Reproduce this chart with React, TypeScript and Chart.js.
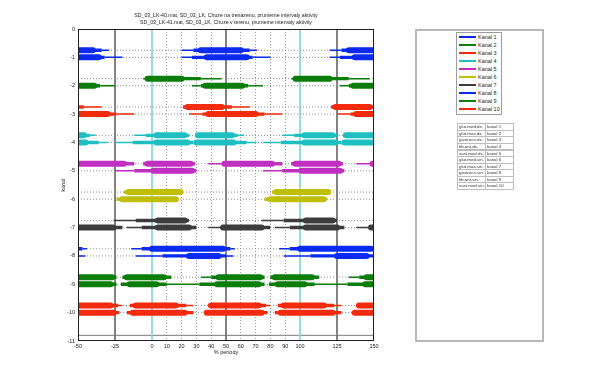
import React, { useEffect, useRef } from "react";
import { Chart, registerables } from "chart.js";

Chart.register(...registerables);

type Seg = [number, number, number]; // [start %, end %, level 1=thin 2=medium 3=thick]

const titleLines = [
  "SD_03_LK-40.mat, SD_03_LK, Chuze na trenazenu, prumerne intervaly aktivity",
  "SD_03_LK-41.mat, SD_03_LK, Chuze v terenu, prumerne intervaly aktivity",
];
const xTitle = "% periody";
const yTitle = "kanal";
const xTicks = [-50, -25, 0, 10, 20, 30, 40, 50, 60, 70, 80, 90, 100, 125, 150];
const xMin = -50;
const xMax = 150;
const yMin = -11;
const yMax = 0;
const cycleShifts = [-100, 0, 100];
const kanalRows = [-1, -2, -3, -4, -5, -6, -7, -8, -9, -10];
const upperOffset = 0.25;
const cycleMarkers = [0, 100];
const phaseMarkers = [-25, 50, 125];
const extraBaseline = -10.8;

const kanalNames = ["Kanal 1", "Kanal 2", "Kanal 3", "Kanal 4", "Kanal 5", "Kanal 6", "Kanal 7", "Kanal 8", "Kanal 9", "Kanal 10"];
const kanalColors = ["#0a2af2", "#0a7d0a", "#f42a0c", "#1ebfc0", "#c02fc0", "#bfbf0a", "#3c3c3c", "#0a2af2", "#0a7d0a", "#f42a0c"];
const muscleNames = ["glut.med.dx.", "glut.max.dx.", "gastrocn.dx.", "tib.ant.dx.", "vast.med.dx.", "glut.med.sin.", "glut.max.sin.", "gastrocn.sin.", "tib.ant.sin.", "vast.med.sin."];
const tableKanal = ["kanal 1", "kanal 2", "kanal 3", "kanal 4", "kanal 5", "kanal 6", "kanal 7", "kanal 8", "kanal 9", "kanal 10"];

// upper band = file 40 (treadmill), lower band = file 41 (terrain)
const k1Upper: Seg[] = [[20, 28, 1], [28, 33, 2], [33, 60, 3], [60, 66, 2], [66, 71, 1]];
const k1Lower: Seg[] = [[20, 27, 1], [27, 37, 2], [37, 64, 3], [64, 68, 2], [68, 80, 1]];
const k2Upper: Seg[] = [[-6, -3, 1], [-3, 20, 3], [20, 33, 2], [33, 47, 1]];
const k2Lower: Seg[] = [[27, 33, 1], [33, 36, 2], [36, 61, 3], [61, 65, 2], [65, 75, 1]];
const k3Upper: Seg[] = [[21, 24, 2], [24, 47, 3], [47, 54, 2], [54, 66, 1]];
const k3Lower: Seg[] = [[25, 34, 1], [34, 38, 2], [38, 70, 3], [70, 76, 2], [76, 88, 1]];
const k4Upper: Seg[] = [[-12, -4, 1], [-4, 3, 2], [3, 22, 3], [22, 25, 2], [29, 31, 2], [31, 54, 3], [54, 58, 2], [58, 62, 1]];
const k4Lower: Seg[] = [[-25, -13, 1], [-13, 3, 2], [3, 24, 3], [24, 28, 2], [30, 55, 3], [55, 64, 2], [64, 70, 1]];
const k5Upper: Seg[] = [[38, 49, 1], [49, 81, 3], [81, 88, 2], [94, 97, 2], [97, 126, 3], [126, 129, 2]];
const k5Lower: Seg[] = [[-25, -12, 1], [-12, 1, 2], [1, 27, 3], [27, 30, 2]];
const k6Upper: Seg[] = [[-19, -16, 2], [-16, 19, 3], [19, 21, 2]];
const k6Lower: Seg[] = [[-24, -20, 2], [-20, 16, 3], [16, 18, 2]];
const k7Upper: Seg[] = [[-26, -11, 1], [-11, 4, 2], [4, 22, 3], [22, 25, 2]];
const k7Lower: Seg[] = [[38, 48, 1], [48, 74, 3], [74, 80, 2], [83, 93, 1], [93, 104, 2], [104, 125, 3], [125, 130, 2]];
const k8Upper: Seg[] = [[-14, -7, 1], [-7, 0, 2], [0, 48, 3], [48, 53, 2], [53, 56, 1]];
const k8Lower: Seg[] = [[-11, 7, 1], [7, 25, 2], [25, 45, 3], [45, 50, 2], [50, 55, 1]];
const k9Upper: Seg[] = [[33, 40, 1], [40, 45, 2], [45, 73, 3], [73, 76, 2], [80, 83, 2], [83, 108, 3], [108, 113, 2]];
const k9Lower: Seg[] = [[10, 32, 1], [32, 44, 2], [44, 72, 3], [72, 76, 2], [79, 85, 2], [85, 103, 3], [103, 110, 2]];
const k10Upper: Seg[] = [[38, 40, 2], [40, 72, 3], [72, 77, 2], [77, 80, 1], [85, 89, 2], [89, 116, 3], [116, 123, 2], [123, 128, 1]];
const k10Lower: Seg[] = [[35, 37, 2], [37, 74, 3], [74, 78, 2], [83, 87, 2], [87, 122, 3], [122, 128, 2]];

const upperBands = [k1Upper, k2Upper, k3Upper, k4Upper, k5Upper, k6Upper, k7Upper, k8Upper, k9Upper, k10Upper];
const lowerBands = [k1Lower, k2Lower, k3Lower, k4Lower, k5Lower, k6Lower, k7Lower, k8Lower, k9Lower, k10Lower];

const FONT = "'Liberation Sans', Arial, Helvetica, sans-serif";
const levelWidth = [0, 1.5, 3.4, 6];
const levelCap = ["butt", "butt", "butt", "round"];

function levelPoints(segs: Seg[], level: number, y: number) {
  const spans: [number, number][] = [];
  for (const shift of cycleShifts) {
    for (const s of segs) if (s[2] === level) spans.push([s[0] + shift, s[1] + shift]);
  }
  spans.sort((a, b) => a[0] - b[0]);
  const pts: { x: number; y: number | null }[] = [];
  for (const [a, b] of spans) {
    pts.push({ x: a, y }, { x: b, y }, { x: b, y: null });
  }
  return pts;
}

const framePlugin = {
  id: "frame",
  afterDatasetsDraw(chart: any) {
    const { ctx, chartArea: a } = chart;
    ctx.save();
    ctx.strokeStyle = "#1e1e1e";
    ctx.lineWidth = 1;
    ctx.strokeRect(Math.round(a.left) + 0.5, Math.round(a.top) + 0.5, Math.round(a.right - a.left) - 1, Math.round(a.bottom - a.top) - 1);
    ctx.restore();
  },
};

export default function App() {
  const ref = useRef<HTMLCanvasElement>(null);

  useEffect(() => {
    const canvas = ref.current;
    if (!canvas) return;
    const datasets: any[] = [];

    // vertical reference lines
    for (const v of cycleMarkers) {
      datasets.push({ data: [{ x: v, y: yMax }, { x: v, y: yMin }], borderColor: "#8ad6df", borderWidth: 1, showLine: true, pointRadius: 0, order: 50, clip: 0 });
    }
    for (const v of phaseMarkers) {
      datasets.push({ data: [{ x: v, y: yMax }, { x: v, y: yMin }], borderColor: "#727272", borderWidth: 1, showLine: true, pointRadius: 0, order: 50, clip: 0 });
    }
    datasets.push({ data: [{ x: xMin, y: extraBaseline }, { x: xMax, y: extraBaseline }], borderColor: "#7a7a7a", borderWidth: 1, showLine: true, pointRadius: 0, order: 50, clip: 0 });

    const bands: { segs: Seg[]; y: number; color: string }[] = [];
    kanalRows.forEach((row, k) => {
      bands.push({ segs: upperBands[k], y: row + upperOffset, color: kanalColors[k] });
      bands.push({ segs: lowerBands[k], y: row, color: kanalColors[k] });
    });

    for (const b of bands) {
      datasets.push({ data: [{ x: xMin, y: b.y }, { x: xMax, y: b.y }], borderColor: "#8c8c8c", borderWidth: 1, borderDash: [1, 2], showLine: true, pointRadius: 0, order: 40, clip: 0 });
      for (let level = 1; level <= 3; level++) {
        datasets.push({
          data: levelPoints(b.segs, level, b.y),
          borderColor: b.color,
          backgroundColor: b.color,
          borderWidth: levelWidth[level],
          borderCapStyle: levelCap[level],
          showLine: true,
          spanGaps: false,
          pointRadius: 0,
          order: 10 - level,
          clip: 0,
        });
      }
    }

    const tickFont = { family: FONT, size: 5.5 };
    const chart = new Chart(canvas, {
      type: "scatter",
      data: { datasets },
      plugins: [framePlugin],
      options: {
        responsive: false,
        animation: false,
        events: [],
        layout: { padding: { left: 58, right: 226, top: 0, bottom: 26 } },
        plugins: {
          legend: { display: false },
          tooltip: { enabled: false },
          title: {
            display: true,
            text: titleLines,
            fullSize: false,
            color: "#222",
            font: { family: FONT, size: 5.2, weight: "normal", lineHeight: "7px" },
            padding: { top: 12.2, bottom: 2.8 },
          },
        },
        scales: {
          x: {
            type: "linear",
            min: xMin,
            max: xMax,
            afterBuildTicks: (s: any) => {
              s.ticks = xTicks.map((v) => ({ value: v }));
            },
            afterFit: (s: any) => {
              s.height = 16;
            },
            grid: {
              drawTicks: false,
              lineWidth: 1,
              color: (c: any) => {
                const v = c.tick ? c.tick.value : 0;
                if (v === xMin || v === xMax || cycleMarkers.includes(v) || phaseMarkers.includes(v)) return "rgba(0,0,0,0)";
                return "#9a9a9a";
              },
            },
            border: { display: false, dash: [1, 2] },
            ticks: { font: tickFont, color: "#222", padding: 2, autoSkip: false, maxRotation: 0 },
            title: { display: true, text: xTitle, color: "#222", font: tickFont, padding: { top: 0, bottom: 1 } },
          },
          y: {
            type: "linear",
            min: yMin,
            max: yMax,
            afterFit: (s: any) => {
              s.width = 20;
            },
            grid: { display: false, drawTicks: false },
            border: { display: false },
            ticks: { stepSize: 1, font: tickFont, color: "#222", padding: 3 },
            title: { display: true, text: yTitle, color: "#222", font: tickFont, padding: { top: 1.7, bottom: 0 } },
          },
        },
      } as any,
    });
    return () => chart.destroy();
  }, []);

  const legendTop = 37.3;
  const legendStep = 8;
  const rowTop = 123.3;
  const rowH = 6.55;
  const cellStyle = { position: "absolute" as const, width: 29, height: rowH + 1, border: "1px solid #bdbdbd", boxSizing: "border-box" as const, fontSize: 4.4, lineHeight: `${rowH - 1}px`, paddingLeft: 1, color: "#333", whiteSpace: "nowrap" as const, overflow: "hidden" };

  return (
    <div style={{ position: "absolute", left: 0, top: 0, width: 600, height: 383, background: "#fff", fontFamily: FONT, overflow: "hidden" }}>
      <canvas ref={ref} width={600} height={383} style={{ position: "absolute", left: 0, top: 0, width: 600, height: 383, display: "block" }} />
      <div style={{ position: "absolute", left: 415, top: 29, width: 129, height: 313, border: "2px solid #b8b8b8", boxSizing: "border-box" }} />
      <div style={{ position: "absolute", left: 456, top: 32, width: 46, height: 83, border: "1px solid #9c9c9c", boxSizing: "border-box", background: "#fff" }} />
      {kanalNames.map((name, i) => (
        <React.Fragment key={name}>
          <div style={{ position: "absolute", left: 459, top: legendTop + i * legendStep - 1, width: 17, height: 2, background: kanalColors[i] }} />
          <div style={{ position: "absolute", left: 478, top: legendTop + i * legendStep - 4, height: 8, lineHeight: "8px", fontSize: 5.5, color: "#222", whiteSpace: "nowrap" }}>{name}</div>
        </React.Fragment>
      ))}
      {muscleNames.map((m, i) => (
        <React.Fragment key={m}>
          <div style={{ ...cellStyle, left: 457, top: rowTop + i * rowH }}>{m}</div>
          <div style={{ ...cellStyle, left: 485, top: rowTop + i * rowH }}>{tableKanal[i]}</div>
        </React.Fragment>
      ))}
    </div>
  );
}
